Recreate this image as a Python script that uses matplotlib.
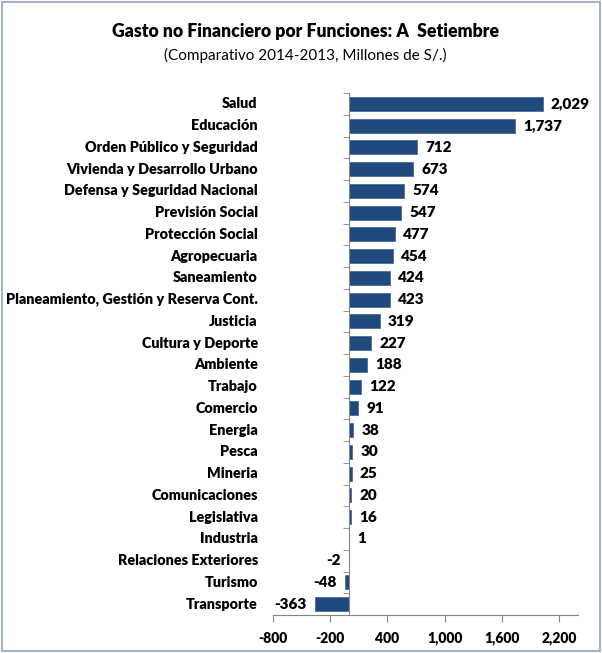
import matplotlib
matplotlib.use('Agg')
import matplotlib.pyplot as plt
from matplotlib.patches import Rectangle
import numpy as np

# data
categories = [
    'Salud', 'Educación', 'Orden Público y Seguridad', 'Vivienda y Desarrollo Urbano',
    'Defensa y Seguridad Nacional', 'Previsión Social', 'Protección Social',
    'Agropecuaria', 'Saneamiento', 'Planeamiento, Gestión y Reserva Cont.',
    'Justicia', 'Cultura y Deporte', 'Ambiente', 'Trabajo', 'Comercio', 'Energia',
    'Pesca', 'Mineria', 'Comunicaciones', 'Legislativa', 'Industria',
    'Relaciones Exteriores', 'Turismo', 'Transporte',
]
values = [2029, 1737, 712, 673, 574, 547, 477, 454, 424, 423, 319, 227, 188,
          122, 91, 38, 30, 25, 20, 16, 1, -2, -48, -363]
xticks = [-800, -200, 400, 1000, 1600, 2200]

plt.rcParams['font.family'] = ['Lato', 'DejaVu Sans']

fig = plt.figure(figsize=(6.02, 6.53), dpi=100)
ax = fig.add_axes([273 / 602, 1 - 615 / 653, 305 / 602, (615 - 93) / 653])

y = np.arange(len(categories))
bars = ax.barh(y, values, height=0.64, color='#1F497D', edgecolor='#4A6E9C', linewidth=0.6)

ax.set_xlim(-800, 2400)
ax.set_ylim(len(categories) - 0.5, -0.5)

ax.bar_label(bars, labels=[f'{v:,}' for v in values], padding=6,
             fontsize=11, fontweight='heavy')

for i, c in enumerate(categories):
    ax.text(-0.05, i, c, transform=ax.get_yaxis_transform(), ha='right', va='center',
            fontsize=10.4, fontweight='heavy')

# axes look
for s in ['top', 'right']:
    ax.spines[s].set_visible(False)
ax.spines['left'].set_position(('data', 0))
ax.spines['left'].set_color('#868686')
ax.spines['bottom'].set_color('#868686')
ax.set_yticks([])
ax.set_yticks(np.arange(len(categories) + 1) - 0.5, minor=True)
ax.tick_params(axis='y', which='minor', length=4, color='#868686', direction='out')
ax.set_xticks(xticks)
ax.set_xticklabels([f'{t:,}' for t in xticks], fontsize=10, fontweight='heavy')
ax.tick_params(axis='x', length=5, color='#868686', pad=7)

fig.text(306 / 602, 1 - 32 / 653, 'Gasto no Financiero por Funciones: A  Setiembre',
         ha='center', va='center', fontsize=12.7, fontweight='heavy')
fig.text(305 / 602, 1 - 55 / 653, '(Comparativo 2014-2013, Millones de S/.)',
         ha='center', va='center', fontsize=11)

# chart border
fig.patches.append(Rectangle((0.004, 0.003), 0.992, 0.994, transform=fig.transFigure,
                             fill=False, edgecolor='#8EA5C4', linewidth=1.2))

fig.savefig('out.png', dpi=100)
